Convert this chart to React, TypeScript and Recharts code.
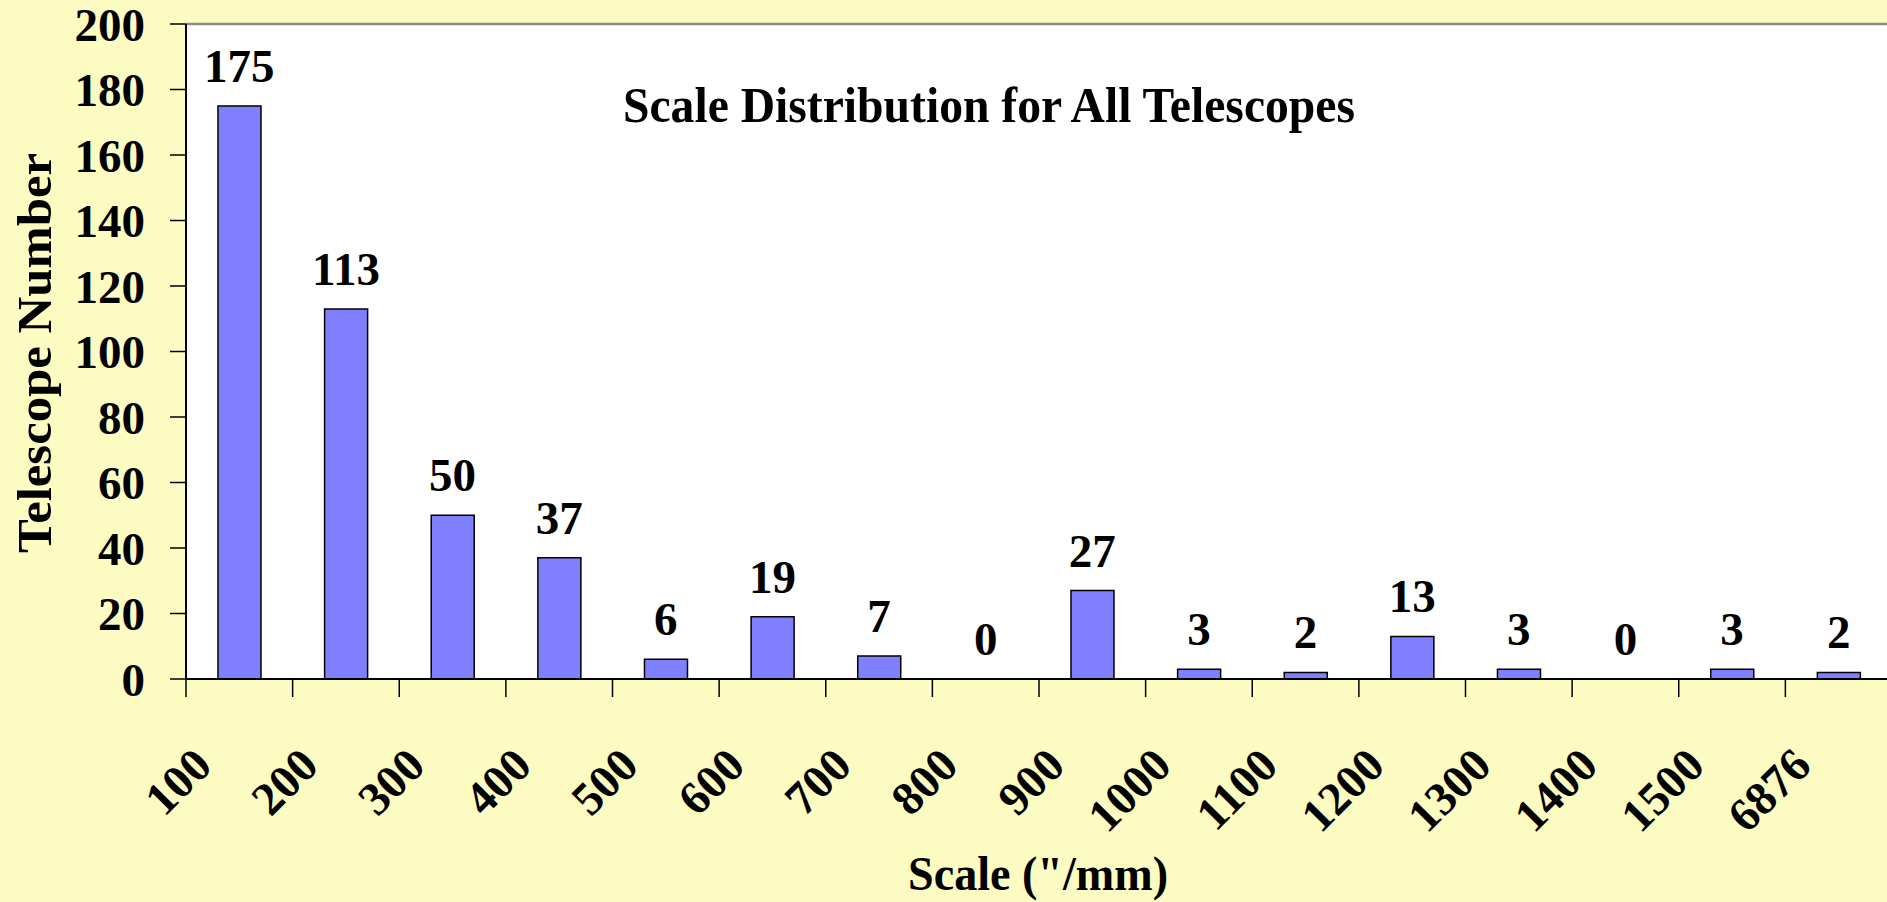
import React from "react";
import {
  ComposedChart,
  Bar,
  Line,
  XAxis,
  YAxis,
  CartesianGrid,
  LabelList,
  ReferenceLine,
} from "recharts";

// scale bins ("/mm) and how many telescopes fall in each
const scaleBins = [
  "100", "200", "300", "400", "500", "600", "700", "800",
  "900", "1000", "1100", "1200", "1300", "1400", "1500", "6876",
];
const telescopeCounts = [175, 113, 50, 37, 6, 19, 7, 0, 27, 3, 2, 13, 3, 0, 3, 2];
const yTicks = [0, 20, 40, 60, 80, 100, 120, 140, 160, 180, 200];

const chartTitle = "Scale Distribution for All Telescopes";
const xTitle = "Scale (\"/mm)";
const yTitle = "Telescope Number";

const chartData = scaleBins.map((bin, i) => ({ bin, count: telescopeCounts[i] }));

const FONT = '"Liberation Serif", "Times New Roman", Times, serif';
const BG = "#FCFCC2";
const PAGE_W = 1887;
const PAGE_H = 902;
const PLOT_LEFT = 186;
const PLOT_TOP = 24;
const PLOT_BOTTOM = 679;
const PLOT_WIDTH = 1706;
const CHART_W = PLOT_LEFT + PLOT_WIDTH + 8;
const X_TICK = 18;

// labels and tick marks sit on the left edge of each bin, not its centre
function BinTick(props: any) {
  const { x, y, payload } = props;
  const half =
    payload && typeof payload.offset === "number" && payload.offset > 0
      ? payload.offset
      : PLOT_WIDTH / scaleBins.length / 2;
  const edge = x - half;
  const axisY = y - X_TICK;
  const bx = edge + 28;
  const by = axisY + 89;
  return (
    <g>
      <line x1={edge} y1={axisY} x2={edge} y2={axisY + X_TICK} stroke="#000" strokeWidth={1.5} />
      <text
        x={bx}
        y={by}
        transform={`rotate(-45 ${bx} ${by})`}
        textAnchor="end"
        fontFamily={FONT}
        fontWeight="bold"
        fontSize={47}
        fill="#000"
      >
        {payload.value}
      </text>
    </g>
  );
}

export default function App() {
  return (
    <div
      style={{
        position: "absolute",
        left: 0,
        top: 0,
        width: PAGE_W,
        height: PAGE_H,
        overflow: "hidden",
        background: BG,
      }}
    >
      <ComposedChart
        width={CHART_W}
        height={PAGE_H}
        data={chartData}
        margin={{ top: PLOT_TOP, right: CHART_W - PLOT_LEFT - PLOT_WIDTH, bottom: 0, left: 0 }}
        barCategoryGap="30%"
      >
        <CartesianGrid horizontal={false} vertical={false} fill="#FFFFFF" />
        <XAxis
          dataKey="bin"
          type="category"
          height={PAGE_H - PLOT_BOTTOM}
          interval={0}
          tickLine={false}
          tickSize={X_TICK}
          tickMargin={0}
          axisLine={{ stroke: "#000", strokeWidth: 2 }}
          tick={<BinTick />}
        />
        <YAxis
          width={PLOT_LEFT}
          domain={[0, 200]}
          ticks={yTicks}
          interval={0}
          tickSize={16}
          tickMargin={25}
          axisLine={{ stroke: "#000", strokeWidth: 2 }}
          tickLine={{ stroke: "#000", strokeWidth: 1.5 }}
          tick={{ fill: "#000", fontSize: 47, fontWeight: "bold", fontFamily: FONT }}
        />
        <ReferenceLine y={200} stroke="#8a8a8a" strokeWidth={2.5} />
        <Bar dataKey="count" fill="#8080FF" stroke="#000" strokeWidth={1.5} isAnimationActive={false} />
        {/* invisible series that only carries the value labels, so the zero bins get one too */}
        <Line
          dataKey="count"
          stroke="none"
          dot={false}
          activeDot={false}
          legendType="none"
          isAnimationActive={false}
        >
          <LabelList
            dataKey="count"
            position="top"
            offset={24}
            fill="#000"
            fontSize={47}
            fontWeight="bold"
            fontFamily={FONT}
          />
        </Line>
      </ComposedChart>
      <svg
        width={PAGE_W}
        height={PAGE_H}
        style={{ position: "absolute", left: 0, top: 0, pointerEvents: "none" }}
      >
        <text
          x={989}
          y={122}
          textAnchor="middle"
          fontFamily={FONT}
          fontWeight="bold"
          fontSize={50}
          textLength={732}
          lengthAdjust="spacingAndGlyphs"
          fill="#000"
        >
          {chartTitle}
        </text>
        <text
          x={1038}
          y={890}
          textAnchor="middle"
          fontFamily={FONT}
          fontWeight="bold"
          fontSize={49}
          textLength={260}
          lengthAdjust="spacingAndGlyphs"
          fill="#000"
        >
          {xTitle}
        </text>
        <text
          x={51}
          y={353}
          transform="rotate(-90 51 353)"
          textAnchor="middle"
          fontFamily={FONT}
          fontWeight="bold"
          fontSize={48}
          textLength={400}
          lengthAdjust="spacingAndGlyphs"
          fill="#000"
        >
          {yTitle}
        </text>
      </svg>
    </div>
  );
}
